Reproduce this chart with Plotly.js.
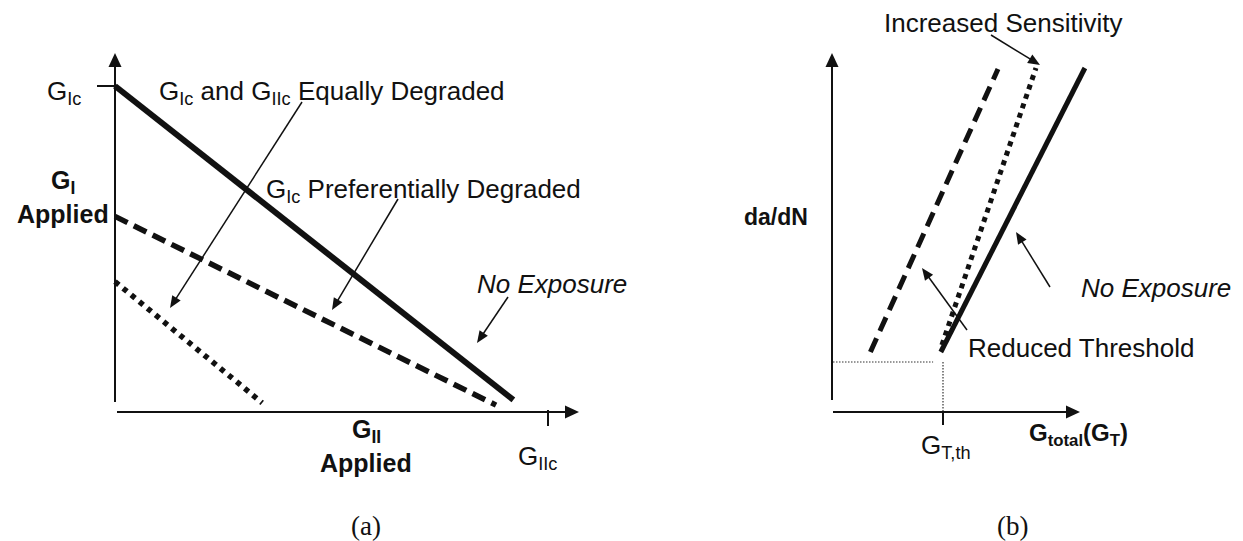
<!DOCTYPE html>
<html><head><meta charset="utf-8">
<script src="https://cdn.plot.ly/plotly-3.0.1.min.js"></script>
<style>html,body{margin:0;padding:0;background:#fff}#chart{width:1243px;height:541px}</style>
</head><body><div id="chart"></div>
<script>
// ---------- DATA ----------
// Panel (a): failure envelopes, G_II applied (x) vs G_I applied (y); normalised so G_IIc = 1, G_Ic = 1
const envelopeNames = ["No Exposure", "GIc Preferentially Degraded", "GIc and GIIc Equally Degraded"];
const gIIApplied_noExposure = [0, 0.92];
const gIApplied_noExposure = [1.0, 0.037];
const gIIApplied_prefDegraded = [0, 0.88];
const gIApplied_prefDegraded = [0.60, 0.021];
const gIIApplied_equalDegraded = [0, 0.34];
const gIApplied_equalDegraded = [0.40, 0.028];
// Panel (b): da/dN vs G_total; normalised so G_T,th = 1 and threshold rate = 1
const crackCurveNames = ["No Exposure", "Reduced Threshold", "Increased Sensitivity"];
const gTotal_noExposure = [0.98, 2.29];
const dadN_noExposure = [1.2, 6.88];
const gTotal_reducedThreshold = [0.34, 1.5];
const dadN_reducedThreshold = [1.2, 6.86];
const gTotal_increasedSensitivity = [0.99, 1.845];
const dadN_increasedSensitivity = [1.34, 6.88];
const gTotal_thresholdGuide = [0, 0.91, null, 1.0, 1.0];
const dadN_thresholdGuide = [1.0, 1.0, null, 1.0, 0];
// Labels
const tickLabelsA = ["G<sub>Ic</sub>", "G<sub>IIc</sub>"];
const tickLabelsB = ["G<sub>T,th</sub>"];
const axisLabelsA = ["<b>G<sub>I</sub></b>", "<b>Applied</b>", "<b>G<sub>II</sub></b>", "<b>Applied</b>"];
const axisLabelsB = ["<b>da/dN</b>", "<b>G<sub>total</sub>(G<sub>T</sub>)</b>"];
const calloutsA = ["G<sub>Ic</sub> and G<sub>IIc</sub> Equally Degraded", "G<sub>Ic</sub> Preferentially Degraded", "<i>No Exposure</i>"];
const calloutsB = ["Increased Sensitivity", "<i>No Exposure</i>", "Reduced Threshold"];
const panelLabels = ["(a)", "(b)"];

// ---------- LAYOUT HELPERS ----------
const W = 1243, H = 541;
const PX = v => v / W, PY = v => 1 - v / H;
const INK = '#111';
const SANS = 'Liberation Sans, Arial, Helvetica, sans-serif';

function line(x, y, xa, ya, width, dash, name) {
  return {type: 'scatter', mode: 'lines', x: x, y: y, xaxis: xa, yaxis: ya, name: name,
    line: {color: INK, width: width, dash: dash}, cliponaxis: false, hoverinfo: 'skip'};
}

const traces = [
  line(gIIApplied_noExposure, gIApplied_noExposure, 'x', 'y', 6, 'solid', envelopeNames[0]),
  line(gIIApplied_prefDegraded, gIApplied_prefDegraded, 'x', 'y', 5.5, '14px,7px', envelopeNames[1]),
  line(gIIApplied_equalDegraded, gIApplied_equalDegraded, 'x', 'y', 5.5, '5px,5.5px', envelopeNames[2]),
  line(gTotal_noExposure, dadN_noExposure, 'x2', 'y2', 5, 'solid', crackCurveNames[0]),
  line(gTotal_reducedThreshold, dadN_reducedThreshold, 'x2', 'y2', 5, '15px,8px', crackCurveNames[1]),
  line(gTotal_increasedSensitivity, dadN_increasedSensitivity, 'x2', 'y2', 5, '5px,5px', crackCurveNames[2]),
  {type: 'scatter', mode: 'lines', x: gTotal_thresholdGuide, y: dadN_thresholdGuide, xaxis: 'x2', yaxis: 'y2',
    line: {color: '#333', width: 1.2, dash: '1.5px,1.5px'}, connectgaps: false, cliponaxis: false, hoverinfo: 'skip'}
];

function txt(text, x, y, xanchor, size, family) {
  return {text: text, xref: 'paper', yref: 'paper', x: PX(x), y: PY(y), xanchor: xanchor, yanchor: 'middle',
    showarrow: false, font: {family: family || SANS, size: size, color: INK}};
}
function seg(x0, y0, x1, y1, width) {
  return {type: 'line', xref: 'paper', yref: 'paper', x0: PX(x0), y0: PY(y0), x1: PX(x1), y1: PY(y1),
    line: {color: INK, width: width}};
}
// arrow = shaft line + filled triangular head (pixel geometry converted to paper coords)
function arrow(tipX, tipY, tailX, tailY, width, headLen, headHalf) {
  const dx = tipX - tailX, dy = tipY - tailY, len = Math.hypot(dx, dy);
  const ux = dx / len, uy = dy / len, nx = -uy, ny = ux;
  const bx = tipX - ux * headLen, by = tipY - uy * headLen;
  const p = (x, y) => PX(x).toFixed(5) + ',' + PY(y).toFixed(5);
  const head = {type: 'path', xref: 'paper', yref: 'paper', line: {width: 0, color: INK}, fillcolor: INK,
    path: 'M' + p(tipX, tipY) + ' L' + p(bx + nx * headHalf, by + ny * headHalf) +
          ' L' + p(bx - nx * headHalf, by - ny * headHalf) + ' Z'};
  const shaft = seg(tailX, tailY, tipX - ux * headLen * 0.7, tipY - uy * headLen * 0.7, width);
  return [shaft, head];
}

const annotations = [
  // panel (a) text
  txt(tickLabelsA[0], 45, 93, 'left', 26),
  txt(tickLabelsA[1], 516, 457, 'left', 26),
  txt(axisLabelsA[0], 63, 182, 'center', 25),
  txt(axisLabelsA[1], 63, 214, 'center', 25),
  txt(axisLabelsA[2], 366, 431, 'center', 25),
  txt(axisLabelsA[3], 366, 463, 'center', 25),
  txt(calloutsA[0], 157, 93, 'left', 26),
  txt(calloutsA[1], 264, 190, 'left', 26),
  txt(calloutsA[2], 475, 284, 'left', 26),
  // panel (b) text
  txt(calloutsB[0], 882, 23, 'left', 26),
  txt(calloutsB[1], 1079, 288, 'left', 26),
  txt(calloutsB[2], 966, 348, 'left', 26),
  txt(tickLabelsB[0], 919, 446, 'left', 26),
  txt(axisLabelsB[0], 810, 217, 'right', 23),
  txt(axisLabelsB[1], 1027, 434, 'left', 24),
  // panel letters
  txt(panelLabels[0], 366, 526, 'center', 27, 'Liberation Serif, Times New Roman, serif'),
  txt(panelLabels[1], 1012, 526, 'center', 27, 'Liberation Serif, Times New Roman, serif')
];

const shapes = [].concat(
  // axes with arrowheads
  arrow(115, 53, 115, 402, 2, 14, 6.5),
  arrow(579, 412, 117, 412, 2, 14, 6.5),
  arrow(832, 53, 832, 400, 2, 14, 6.5),
  arrow(1080, 412, 833, 412, 2, 14, 6.5),
  // callout arrows
  arrow(170, 308, 302, 102, 1.5, 12, 5),
  arrow(332, 310, 398, 199, 1.5, 12, 5),
  arrow(477, 343, 508, 297, 1.5, 12, 5),
  arrow(1040, 65, 991, 35, 1.5, 12, 5),
  arrow(1016, 232, 1050, 287, 1.5, 12, 5),
  arrow(922, 268, 967, 330, 1.5, 12, 5),
  [
    seg(97, 86, 115, 86, 2),     // G_Ic tick
    seg(548, 410, 548, 426, 2),  // G_IIc tick
    seg(943, 412, 943, 425, 2)   // G_T,th tick
  ]
);

const hidden = {visible: false, fixedrange: true};
const layout = {
  width: W, height: H, margin: {l: 0, r: 0, t: 0, b: 0, pad: 0},
  paper_bgcolor: '#fff', plot_bgcolor: 'rgba(0,0,0,0)', showlegend: false,
  xaxis: Object.assign({domain: [0, 1], range: [-115 / 433, 1128 / 433]}, hidden),
  yaxis: Object.assign({domain: [0, 1], range: [-129 / 326, 412 / 326]}, hidden),
  xaxis2: Object.assign({domain: [0, 1], range: [-833 / 110, 410 / 110], anchor: 'y2'}, hidden),
  yaxis2: Object.assign({domain: [0, 1], range: [-129 / 50, 412 / 50], anchor: 'x2'}, hidden),
  annotations: annotations, shapes: shapes
};
Plotly.newPlot('chart', traces, layout, {staticPlot: true, displayModeBar: false});
</script>
</body></html>
